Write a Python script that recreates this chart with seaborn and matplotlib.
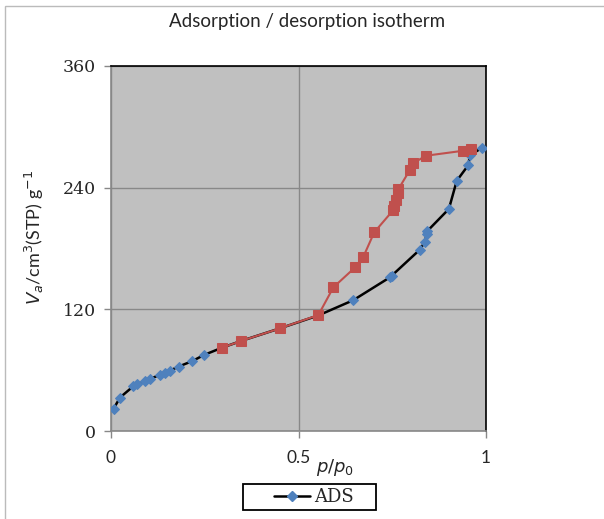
import matplotlib
matplotlib.use("Agg")
import matplotlib.pyplot as plt
from matplotlib.lines import Line2D
from matplotlib.patches import Rectangle
import seaborn as sns
import pandas as pd

# Adsorption branch
ads_p = [0.007, 0.024, 0.059, 0.068, 0.091, 0.103, 0.130, 0.143, 0.157, 0.180,
         0.217, 0.248, 0.295, 0.347, 0.451, 0.553, 0.646, 0.744, 0.748, 0.824,
         0.837, 0.842, 0.843, 0.901, 0.922, 0.953, 0.957, 0.990]
ads_v = [22, 33, 44, 46, 49, 51, 55.5, 57.5, 59.5, 63.5,
         69, 75, 82, 88.8, 101.3, 114, 129, 151.6, 153, 179,
         186.7, 194.3, 197, 219, 246.8, 262.3, 272, 279.4]

# Desorption branch
des_p = [0.960, 0.939, 0.840, 0.805, 0.797, 0.766, 0.764, 0.760, 0.755, 0.753,
         0.702, 0.673, 0.651, 0.593, 0.553, 0.451, 0.347, 0.295]
des_v = [278, 276.4, 271.5, 264, 257.4, 238.3, 234.4, 227.8, 222, 218,
         196, 171.9, 161.4, 141.7, 114.4, 101.3, 88.8, 82]

x_ticks = [0, 0.5, 1]
x_tick_labels = ["0", "0.5", "1"]
y_ticks = [0, 120, 240, 360]

ads = pd.DataFrame({"p": ads_p, "v": ads_v})
des = pd.DataFrame({"p": des_p, "v": des_v})

sns.set_theme(style="white")
plt.rcParams["font.family"] = ["DejaVu Sans"]

fig = plt.figure(figsize=(6.04, 5.19), dpi=100)
ax = fig.add_axes([111/604, 1-431/519, 375/604, 365/519])
ax.set_facecolor("#C0C0C0")

sns.lineplot(data=ads, x="p", y="v", sort=False, ax=ax, color="black", lw=1.8,
             marker="D", markersize=5.5, markerfacecolor="#4F81BD",
             markeredgecolor="#4F81BD", zorder=3)
sns.lineplot(data=des, x="p", y="v", sort=False, ax=ax, color="#C0504D", lw=1.5,
             marker="s", markersize=7, markerfacecolor="#C0504D",
             markeredgecolor="#C0504D", zorder=4)

ax.set_xlim(0, 1)
ax.set_ylim(0, 360)
ax.set_xticks(x_ticks)
ax.set_xticklabels(x_tick_labels, fontfamily="Lato", fontsize=12.5)
ax.set_yticks(y_ticks)
ax.set_yticklabels([str(t) for t in y_ticks], fontfamily="DejaVu Serif", fontsize=12.5)
ax.grid(True, color="#888888", lw=1)
ax.set_axisbelow(True)
ax.tick_params(axis="both", direction="out", length=5, width=1, color="#888888",
               left=True, bottom=True, pad=9)
ax.tick_params(axis="y", pad=6)
for s in ["left", "bottom"]:
    ax.spines[s].set_color("#888888")
    ax.spines[s].set_linewidth(1.2)
for s in ["top", "right"]:
    ax.spines[s].set_color("black")
    ax.spines[s].set_linewidth(1.2)

ax.set_xlabel("")
ax.set_ylabel("")
fig.text(335/604, 1-468/519, r"$p/p_0$", ha="center", va="center", fontsize=13,
         fontfamily="Lato", math_fontfamily="dejavusans")
fig.text(34/604, 1-237/519, r"$V_a$/cm$^3$(STP) g$^{-1}$", rotation=90,
         ha="center", va="center", fontsize=13, fontfamily="Lato")
fig.text(307/604, 1-22/519, "Adsorption / desorption isotherm", ha="center",
         va="center", fontsize=13.5, fontfamily="Lato")

# legend: handle + text, boxed manually
handle = Line2D([], [], color="black", lw=1.8, marker="D", markersize=5,
                markerfacecolor="#4F81BD", markeredgecolor="#4F81BD")
leg = fig.legend([handle], ["ADS"], loc="center left",
                 bbox_to_anchor=(274/604, 1-497/519),
                 frameon=False, prop={"family": "DejaVu Serif", "size": 13},
                 handlelength=2.0, handletextpad=0.2, borderpad=0, borderaxespad=0)
fig.patches.append(Rectangle((243/604, 1-510/519), 133/604, 26/519,
                             transform=fig.transFigure, fill=False,
                             edgecolor="black", lw=1.3))

fig.patches.append(Rectangle((5/604, -0.1), 1.2, 1 - 6/519 + 0.1,
                             transform=fig.transFigure, fill=False,
                             edgecolor="#BBBBBB", lw=1))

fig.savefig("out.png", dpi=100)
